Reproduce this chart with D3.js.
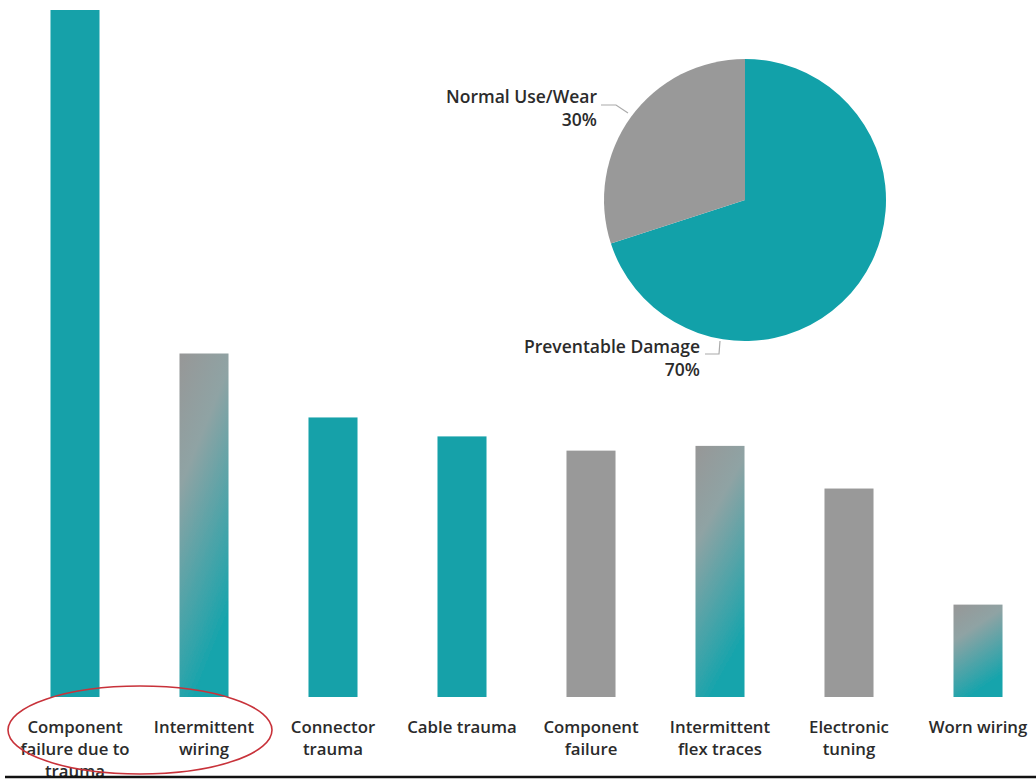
<!DOCTYPE html>
<html>
<head>
<meta charset="utf-8">
<script src="https://cdn.jsdelivr.net/npm/d3@7"></script>
<style>
  html, body { margin: 0; padding: 0; background: #fff; }
  svg { display: block; }
  text { font-family: "Open Sans", "Noto Sans", sans-serif; font-weight: 600; fill: #2b2b2b; }
</style>
</head>
<body>
<script>
// Repair-cause breakdown (share of repairs, %)
const categories = [
  ["Component", "failure due to", "trauma"],
  ["Intermittent", "wiring"],
  ["Connector", "trauma"],
  ["Cable trauma"],
  ["Component", "failure"],
  ["Intermittent", "flex traces"],
  ["Electronic", "tuning"],
  ["Worn wiring"]
];
const values = [29.0, 14.5, 11.8, 11.0, 10.4, 10.6, 8.8, 3.9];
// fill style per bar: solid teal (preventable), solid gray (wear), or a blend of both
const fills = ["teal", "blend", "teal", "teal", "gray", "blend", "gray", "blend"];

const pieLabels = ["Preventable Damage", "Normal Use/Wear"];
const pieValues = [70, 30];

const W = 1036, H = 779;
const TEAL = "#12a1a9", GRAY = "#999999";

const svg = d3.select("body").append("svg").attr("width", W).attr("height", H);
const defs = svg.append("defs");
const grad = defs.append("linearGradient").attr("id", "blend")
  .attr("x1", "0").attr("y1", "0").attr("x2", "0.35").attr("y2", "1");
grad.append("stop").attr("offset", "0%").attr("stop-color", "#979797");
grad.append("stop").attr("offset", "35%").attr("stop-color", "#8fa3a4");
grad.append("stop").attr("offset", "100%").attr("stop-color", "#14a4ac");

const soft = defs.append("filter").attr("id", "soft").attr("x", "-20%").attr("y", "-5%").attr("width", "140%").attr("height", "110%");
soft.append("feGaussianBlur").attr("stdDeviation", 0.6);

// bar chart
const x = d3.scaleBand().domain(d3.range(categories.length)).range([10.5, 1042.5]).paddingInner(0.62).paddingOuter(0.31);
const y = d3.scaleLinear().domain([0, 29.0]).range([697, 10]);

const fillFor = f => f === "teal" ? TEAL : f === "gray" ? GRAY : "url(#blend)";

svg.append("g").selectAll("rect").data(values).join("rect")
  .attr("x", (d, i) => x(i))
  .attr("y", d => y(d))
  .attr("width", x.bandwidth())
  .attr("height", d => y(0) - y(d))
  .attr("fill", (d, i) => fillFor(fills[i]))
  .attr("filter", "url(#soft)");

// category labels
const lab = svg.append("g").selectAll("text").data(categories).join("text")
  .attr("text-anchor", "middle")
  .attr("font-size", 16.8)
  .attr("x", (d, i) => x(i) + x.bandwidth() / 2)
  .attr("y", 733);
lab.selectAll("tspan").data(d => d).join("tspan")
  .attr("x", function () { return d3.select(this.parentNode).attr("x"); })
  .attr("dy", (d, j) => j === 0 ? 0 : 22)
  .text(d => d);

// highlight ellipse around the first two categories
svg.append("ellipse")
  .attr("cx", 140).attr("cy", 730).attr("rx", 132).attr("ry", 44)
  .attr("fill", "none").attr("stroke", "#c8323a").attr("stroke-width", 1.6);

// baseline rule
svg.append("line").attr("x1", 5).attr("x2", W).attr("y1", 777).attr("y2", 777)
  .attr("stroke", "#111").attr("stroke-width", 2.5);

// inset pie
const cx = 745, cy = 200, r = 141;
const pie = d3.pie().sort(null).value(d => d)(pieValues);
const arc = d3.arc().innerRadius(0).outerRadius(r);
const pg = svg.append("g").attr("transform", `translate(${cx},${cy})`);
pg.selectAll("path").data(pie).join("path")
  .attr("d", arc)
  .attr("fill", (d, i) => i === 0 ? TEAL : GRAY);

// pie labels with leader lines
const pieText = svg.append("g");
const nl = pieText.append("text").attr("text-anchor", "end").attr("font-size", 17.5);
nl.append("tspan").attr("x", 597).attr("y", 103).text(pieLabels[1]);
nl.append("tspan").attr("x", 597).attr("y", 126).text(pieValues[1] + "%");
pieText.append("path").attr("d", "M601,105 L616,105 L628,113")
  .attr("fill", "none").attr("stroke", "#aaa").attr("stroke-width", 1.2);

const pl = pieText.append("text").attr("text-anchor", "end").attr("font-size", 17.5);
pl.append("tspan").attr("x", 700).attr("y", 353).text(pieLabels[0]);
pl.append("tspan").attr("x", 700).attr("y", 376).text(pieValues[0] + "%");
pieText.append("path").attr("d", "M705,354 L719,354 L720,341")
  .attr("fill", "none").attr("stroke", "#aaa").attr("stroke-width", 1.2);
</script>
</body>
</html>
